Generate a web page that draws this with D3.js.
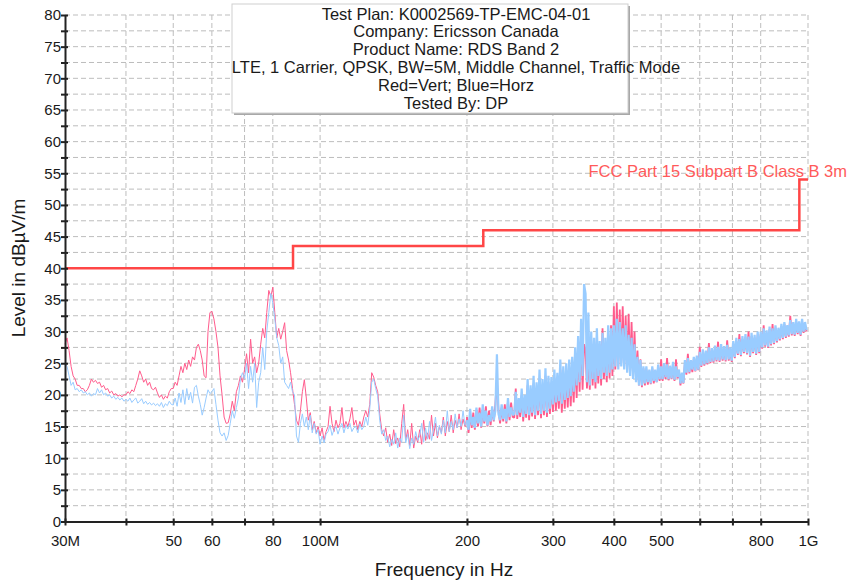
<!DOCTYPE html>
<html>
<head>
<meta charset="utf-8">
<script src="https://cdn.jsdelivr.net/npm/d3@7"></script>
<style>
  body { margin: 0; background: #fff; }
  svg text { font-family: "Liberation Sans", Arial, sans-serif; fill: #1a1a1a; }
</style>
</head>
<body>
<div id="chart"></div>
<script>
// Sweep bands (MHz); readings inside a band are log-spaced across it
const bandEdges = [30, 40, 50, 60, 70, 80, 100, 130, 160, 200, 250, 300, 350, 400, 500, 600, 800, 1000];

// Red = vertical polarisation, dBµV/m, one list per band
const vertLevels = [
  [28, 29, 27, 24.5, 23, 22.5, 21.5, 21.5, 21, 21, 20.5, 20.8, 21.5, 22.5, 22, 22.3, 21.8, 22, 21.2, 21.5, 20.8, 21, 20.3, 20.6, 20, 20.2, 19.8, 20, 19.7, 20],
  [20, 20.5, 20.2, 20.8, 20.5, 21.5, 22.5, 23.8, 23, 22, 22.5, 21.5, 22, 21, 20.8, 21.2, 20.3, 19.6, 20, 19.3, 19.8, 19.5, 20.5, 21],
  [21, 22, 21.5, 23, 24.5, 23.5, 25, 24, 25.5, 24.5, 26, 25.5, 27.5, 28, 27, 25.5, 23, 22.7, 30, 33],
  [33.2, 32, 30, 27.5, 23, 20, 16.5, 15.5, 15.6, 17, 19, 17.5, 20.5, 21.5, 23, 22],
  [24, 26.5, 23.5, 28.8, 25, 26, 23.5, 25, 28, 30.5, 29, 33, 36.5, 35.5],
  [37, 33, 29, 30.5, 28.8, 30, 31.4, 27, 25.5, 23.5, 21, 18.5, 16, 15.2, 17.5, 20.5, 22.4, 19.5, 16, 17.2, 14.5, 15.8, 14, 15],
  [13.5, 14.8, 12.8, 14.2, 15, 18.2, 15.5, 14.2, 16, 14.8, 15.5, 18, 14.8, 15.8, 15, 16.2, 18, 15.2, 16, 14.5, 15.8, 15, 16.5, 17.5, 16.5, 18.5, 23.5, 22.8],
  [21.5, 20.5, 17, 14.5, 13.5, 14.8, 12.5, 13.8, 12, 14.5, 12.3, 13.2, 11.8, 15.5, 18.5, 12.8, 14.5, 12, 15.5, 11.6, 13.5, 12.5],
  [14.5, 12.2, 16, 12.8, 14, 13, 16.8, 13.5, 15.5, 13.2, 15, 14, 16.5, 13.5, 15.8, 14.2, 16.8, 14, 16, 14.8, 17, 14.5, 16.2, 15],
  [16.5, 14, 17, 14.8, 17.2, 14.5, 17.5, 15, 18, 14.8, 17.8, 15.5, 18.2, 15, 17.5, 15.2, 17.8, 15.8, 18.5, 22, 17.5, 15.5, 18, 15.8, 18.5, 15.5, 19, 16, 18.8, 16.5],
  [16.4, 21, 16.2, 18.5, 16.5, 20, 15.8, 19, 16.4, 21.5, 16, 20.5, 16.6, 21.8, 16.2, 21, 16.8, 22.5, 16.3, 21.5, 16.8, 23, 16.5, 22, 17, 21.8],
  [17.3, 22.5, 17.5, 22, 17.8, 24, 17.2, 23, 17.8, 23.5, 18, 24, 18.2, 24.5, 18.8, 26, 19.5, 28, 20.5, 30, 20.8, 28],
  [27, 21, 26, 20.8, 27.5, 21.5, 28, 21, 29, 21.8, 28, 21.5, 30.5, 22.5, 28, 22, 29.5, 22.6, 31, 23],
  [34, 24, 34.6, 24.5, 33.5, 25, 34, 24.5, 32.5, 24, 32.8, 23.5, 31.5, 23, 30, 22.5, 27, 21.5, 25.6, 21.2, 24.2, 21.5, 24, 21.6, 23.8, 21.7, 24.2, 21.8, 23.5, 22, 24, 22.2],
  [25.6, 22.2, 24, 22.5, 25.8, 22.3, 24.3, 22.5, 24.6, 22.2, 25.6, 22.6, 23.6, 21.5, 23.2, 21.8, 25, 23.2, 26.5, 23.4, 25, 23.6, 25.6, 23.7, 25.8, 23.9],
  [27.6, 24.4, 26.5, 24.6, 26.8, 24.8, 28.2, 25, 27, 25.1, 27.3, 25.3, 28.4, 25.2, 27.5, 25.4, 27.2, 25.3, 28.6, 25.4,
   27, 25.2, 28, 25.8, 28.5, 26.3, 29.6, 26.1, 28.8, 26.6, 29.1, 26.4, 30, 26, 29.3, 26.6, 29, 26.3, 29.5, 26.6],
  [29.6, 27.3, 31, 27.6, 29.8, 27.4, 30.4, 27.8, 31.2, 28, 30.6, 28.3, 30.2, 28.6, 30.8, 28.8, 31.2, 29, 30.6, 29.2, 32.5, 29.4, 31.2, 29.3, 31.6, 29.6, 31.2, 29.3, 31.6, 29.8, 31, 30]
];

// Blue = horizontal polarisation
const horzLevels = [
  [25, 24.5, 23, 21.5, 22, 20.8, 21, 20.5, 20.8, 20.3, 20.5, 20, 20.3, 19.8, 20.2, 20, 21, 20.3, 20.8, 20, 20.3, 19.8, 20, 19.5, 19.8, 19.3, 19.6, 19.2, 19.5, 19],
  [19.3, 19, 19.5, 18.8, 19.2, 19.5, 18.7, 19, 19.4, 18.6, 19, 18.5, 18.8, 18.4, 18.7, 18.3, 18.6, 18.2, 18.8, 18, 18.6, 18.3, 19, 18.5],
  [18.4, 19.5, 18.2, 20.3, 18.8, 20.8, 18.5, 21, 19.2, 20.4, 18.7, 21.2, 21.5, 19.8, 18.5, 16.8, 18, 19.5, 20.8, 20.2],
  [20.5, 21, 18.5, 16, 14, 13.5, 14, 12.8, 13.6, 15.5, 17.5, 16.3, 18, 19.5, 22.5, 23.5],
  [22.5, 25, 21, 24.5, 22, 25, 18, 22, 23.5, 27.5, 24, 30, 33, 36],
  [34.5, 32, 29, 27.8, 25, 26, 22, 21.5, 21, 22, 20.5, 20, 13.5, 12.5, 15.5, 17, 15, 16.5, 14.5, 16.8, 14, 15.5, 13.8, 14.5],
  [12.2, 13.5, 12.4, 13.8, 14.2, 15.2, 13.6, 14.5, 15, 13.8, 14.8, 15.5, 14, 15.2, 14.6, 15.5, 14.2, 14.8, 15, 14, 15.4, 14.5, 15, 16.5, 15.2, 17.8, 22, 22.5],
  [21, 19.8, 16, 13.8, 14.5, 12.8, 13.5, 11.8, 13, 12.2, 14, 11.6, 13.2, 12.5, 16.8, 12.4, 13.8, 11.5, 13.2, 12.2, 14.2, 12.8],
  [13.5, 15.5, 12.5, 14.8, 13, 15.8, 12.8, 14.5, 16.5, 13.5, 15.2, 13.8, 16, 14, 17.5, 14.2, 15.8, 14.5, 17, 14.8, 16.2, 15, 17.5, 15.2],
  [16, 14.5, 17.8, 15.2, 16.5, 14.8, 18, 15.5, 17.2, 15, 18.5, 15.8, 17.5, 15.2, 16.8, 15.8, 18.2, 16, 17.5, 26.4, 17, 16, 18.5, 16.2, 17.8, 15.8, 19.5, 16.5, 18, 16.8],
  [17, 20.5, 16.8, 19.5, 17.2, 21, 16.5, 20, 17, 22.5, 16.8, 21.5, 17.2, 23, 16.8, 22, 17.5, 24, 17, 22.5, 17.5, 24.2, 17.2, 23, 17.8, 22.8],
  [18.5, 24, 18.8, 23.5, 19, 25.6, 18.6, 24.5, 19.2, 25, 19.5, 25.6, 19.8, 26, 20.5, 27.5, 21.5, 29.3, 22, 32, 23, 37.5],
  [36, 22, 33, 21.5, 30, 22.5, 29, 22, 30.5, 23, 28.5, 22.5, 29.8, 23.5, 29, 23, 31, 23.5, 30.5, 24],
  [31, 24.5, 32, 24, 31.5, 24.5, 30.5, 24, 31, 23.5, 29.5, 23, 29, 22.5, 28, 22, 26, 21.5, 25.5, 21.5, 24.5, 21.8, 24.5, 22, 24, 21.8, 24.5, 22.2, 24, 22, 24.8, 22.5],
  [24.5, 22.5, 25, 22.8, 24.8, 22.5, 24.6, 22.6, 25.2, 22.4, 24.5, 22.8, 24, 21.8, 23.5, 21.9, 25.5, 23.5, 25.8, 23.6, 25.5, 24, 26, 23.8, 26.2, 24],
  [26.8, 24.6, 27.2, 24.8, 27, 25, 27.5, 25.2, 27.4, 25.3, 27.8, 25.5, 27.6, 25.4, 28, 25.6, 27.7, 25.5, 27.9, 25.6,
   27.5, 25.4, 28.5, 26, 29, 26.5, 28.8, 26.3, 29.3, 26.8, 29.6, 26.6, 29.2, 26.2, 29.8, 26.8, 29.5, 26.5, 30, 26.8],
  [30, 27.5, 30.5, 27.8, 30.2, 27.6, 30.8, 28, 30.5, 28.2, 31, 28.5, 30.6, 28.8, 31.2, 29, 31.5, 29.2, 31, 29.4, 31.8, 29.6, 31.5, 29.5, 32, 29.8, 31.6, 29.5, 32, 30, 31.5, 30.2]
];

// FCC Part 15 Class B 3m limit
const limitFreq = [30, 88, 88, 216, 216, 960, 960, 1000];
const limitLevel = [40, 40, 43.5, 43.5, 46, 46, 54, 54];

const xTicks = [30, 40, 50, 60, 70, 80, 100, 200, 300, 400, 500, 600, 700, 800, 1000];
const xLabelValues = [30, 50, 60, 80, 100, 200, 300, 400, 500, 800, 1000];
const xLabelText = ["30M", "50", "60", "80", "100M", "200", "300", "400", "500", "800", "1G"];
const yTicks = [0, 2.5, 5, 7.5, 10, 12.5, 15, 17.5, 20, 22.5, 25, 27.5, 30, 32.5, 35, 37.5, 40,
                42.5, 45, 47.5, 50, 52.5, 55, 57.5, 60, 62.5, 65, 67.5, 70, 72.5, 75, 77.5, 80];

const infoLines = [
  "Test Plan: K0002569-TP-EMC-04-01",
  "Company: Ericsson Canada",
  "Product Name: RDS Band 2",
  "LTE, 1 Carrier, QPSK, BW=5M, Middle Channel, Traffic Mode",
  "Red=Vert; Blue=Horz",
  "Tested By: DP"
];

const W = 849, H = 583;
const plotL = 65, plotR = 808, plotT = 15, plotB = 521.5;

const svg = d3.select("#chart").append("svg")
    .attr("width", W).attr("height", H);

const x = d3.scaleLog().domain([30, 1000]).range([plotL, plotR]);
const y = d3.scaleLinear().domain([0, 80]).range([plotB, plotT]);

// grid
svg.append("g").selectAll("line").data(yTicks.filter(d => d > 0)).join("line")
    .attr("x1", plotL).attr("x2", plotR)
    .attr("y1", d => y(d)).attr("y2", d => y(d))
    .attr("stroke", "#bdbdbd").attr("stroke-dasharray", "5,3");
svg.append("g").selectAll("line").data(xTicks.filter(d => d > 30)).join("line")
    .attr("x1", d => x(d)).attr("x2", d => x(d))
    .attr("y1", plotT).attr("y2", plotB)
    .attr("stroke", "#bdbdbd").attr("stroke-dasharray", "5,3");

// info box
const box = svg.append("g");
box.append("rect").attr("x", 234).attr("y", 6).attr("width", 396).attr("height", 109).attr("fill", "#a8a8a8");
box.append("rect").attr("x", 232).attr("y", 4).attr("width", 396).attr("height", 109)
    .attr("fill", "#fff").attr("stroke", "#cfcfcf");
box.selectAll("text").data(infoLines).join("text")
    .attr("x", 456).attr("y", (d, i) => 19.5 + i * 17.8)
    .attr("text-anchor", "middle").attr("font-size", 16.5)
    .text(d => d);

// readings
function sweep(levels) {
  const pts = [];
  levels.forEach((band, b) => {
    const f0 = bandEdges[b], f1 = bandEdges[b + 1];
    band.forEach((v, i) => pts.push([f0 * Math.pow(f1 / f0, i / band.length), v]));
  });
  return pts;
}

const line = d3.line().x(d => x(d[0])).y(d => y(d[1]));

// dense upper band drawn heavier so the sweep reads as a filled band
function drawTrace(levels, colour, bandWidth) {
  const pts = sweep(levels);
  const cut = pts.findIndex(d => d[0] >= 200);
  svg.append("path").datum(pts.slice(0, cut + 1))
      .attr("d", line).attr("fill", "none")
      .attr("stroke", colour).attr("stroke-width", 1);
  svg.append("path").datum(pts.slice(cut))
      .attr("d", line).attr("fill", "none")
      .attr("stroke", colour).attr("stroke-width", bandWidth)
      .attr("stroke-linejoin", "bevel");
}
drawTrace(vertLevels, "#ff5c8d", 1.8);
drawTrace(horzLevels, "#99ccff", 2.2);

// limit line
svg.append("path").datum(limitFreq.map((f, i) => [f, limitLevel[i]]))
    .attr("d", line).attr("fill", "none")
    .attr("stroke", "#ff4646").attr("stroke-width", 2.5);
svg.append("text")
    .attr("x", 847).attr("y", 177).attr("text-anchor", "end")
    .attr("font-size", 16.5).style("fill", "#ff5a5a")
    .text("FCC Part 15 Subpart B Class B 3m");

// axes
const yAxis = svg.append("g").attr("transform", `translate(${plotL},0)`)
    .call(d3.axisLeft(y).tickValues(yTicks).tickSizeOuter(0)
      .tickFormat(d => d % 5 === 0 ? d : ""));
yAxis.select(".domain").attr("stroke", "#222").attr("stroke-width", 2);
yAxis.selectAll(".tick line").attr("x1", 3).attr("x2", -4).attr("stroke", "#222").attr("stroke-width", 2);
yAxis.selectAll(".tick text").attr("x", -4).attr("font-size", 15).attr("font-family", null);

const xAxis = svg.append("g").attr("transform", `translate(0,${plotB})`)
    .call(d3.axisBottom(x).tickValues(xTicks).tickSizeOuter(0)
      .tickFormat(d => {
        const k = xLabelValues.indexOf(d);
        return k < 0 ? "" : xLabelText[k];
      }));
xAxis.select(".domain").attr("stroke", "#222").attr("stroke-width", 2);
xAxis.selectAll(".tick line").attr("y1", -3).attr("y2", 4).attr("stroke", "#222").attr("stroke-width", 2);
xAxis.selectAll(".tick text").attr("y", 14).attr("font-size", 15).attr("font-family", null);

svg.append("text")
    .attr("transform", "translate(25,268) rotate(-90)")
    .attr("text-anchor", "middle").attr("font-size", 19)
    .text("Level in dBµV/m");
svg.append("text")
    .attr("x", 444).attr("y", 576).attr("text-anchor", "middle").attr("font-size", 19)
    .text("Frequency in Hz");
</script>
</body>
</html>
